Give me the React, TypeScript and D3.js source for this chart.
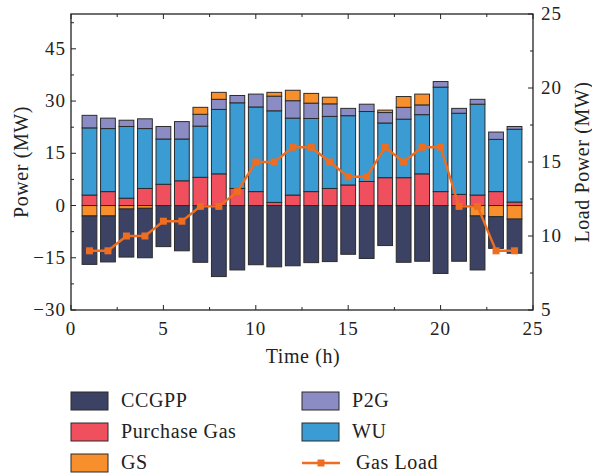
import React from "react";
import * as d3 from "d3";

const hours = [1,2,3,4,5,6,7,8,9,10,11,12,13,14,15,16,17,18,19,20,21,22,23,24];
const ccgpp = [-13.9,-13.2,-13.8,-14.2,-11.8,-13.0,-16.3,-20.4,-18.5,-17.0,-17.6,-17.3,-16.4,-16.1,-14.0,-15.2,-11.5,-16.3,-16.0,-19.5,-16.0,-15.5,-9.1,-9.8];
const purchaseGas = [3.0,4.0,2.1,4.9,6.1,7.1,8.1,9.1,4.9,4.0,0.9,3.0,4.0,4.9,5.9,6.9,8.0,8.0,9.1,4.0,3.2,3.0,4.0,1.0];
const gs = [-3.0,-3.0,-1.0,-0.8,0,0,2.0,2.0,0,0,1.1,3.0,2.8,1.9,0,0,0.7,3.1,3.1,0,0,-3.0,-3.2,-3.9];
const p2g = [3.6,3.0,1.8,2.8,3.6,5.0,3.4,2.9,2.1,3.7,4.2,5.0,4.4,3.6,2.1,2.1,3.0,3.4,2.8,1.6,1.4,1.4,2.1,0.8];
const wu = [19.3,18.1,20.6,17.2,13.0,12.0,14.7,18.5,24.6,24.3,26.3,22.1,21.0,20.7,19.9,20.1,15.7,16.8,17.0,30.0,23.3,26.1,15.0,20.9];
const gasLoad = [9,9,10,10,11,11,12,12,13,15,15,16,16,15,14,14,16,15,16,16,12,12,9,9];

const xTicks = [0,5,10,15,20,25];
const yTicks = [-30,-15,0,15,30,45];
const y2Ticks = [5,10,15,20,25];

const COLORS: Record<string,string> = {
  ccgpp: "#3c4263",
  purchase: "#f04f5e",
  gs: "#f7902c",
  p2g: "#8c8cc5",
  wu: "#3b9bd3",
  line: "#ee6d20",
};

const FONT = "'Liberation Serif', 'Times New Roman', serif";

export default function App() {
  const W = 592, H = 475;
  const L = 71, R = 533, T = 14, B = 310;
  const x = d3.scaleLinear().domain([0, 25]).range([L, R]);
  const y = d3.scaleLinear().domain([-30, 55]).range([B, T]);
  const y2 = d3.scaleLinear().domain([5, 25]).range([B, T]);

  const rows = hours.map((h, i) => ({
    h,
    gsNeg: Math.min(gs[i], 0),
    ccgpp: ccgpp[i],
    purchase: purchaseGas[i],
    wu: wu[i],
    p2g: p2g[i],
    gsPos: Math.max(gs[i], 0),
  }));
  const keys = ["gsNeg", "ccgpp", "purchase", "wu", "p2g", "gsPos"];
  const colorFor: Record<string,string> = {
    gsNeg: COLORS.gs, ccgpp: COLORS.ccgpp, purchase: COLORS.purchase,
    wu: COLORS.wu, p2g: COLORS.p2g, gsPos: COLORS.gs,
  };
  const series = d3.stack<any>().keys(keys).offset(d3.stackOffsetDiverging)(rows);
  const bw = x(0.8) - x(0);

  const line = d3.line<number>().x((_, i) => x(hours[i])).y(d => y2(d));

  const xMinor = d3.range(0, 25.01, 2.5);
  const yMinor = d3.range(-30, 55, 7.5);
  const y2Minor = d3.range(5, 25.01, 2.5);

  const legend = [
    { label: "CCGPP", color: COLORS.ccgpp, col: 0, row: 0 },
    { label: "Purchase Gas", color: COLORS.purchase, col: 0, row: 1 },
    { label: "GS", color: COLORS.gs, col: 0, row: 2 },
    { label: "P2G", color: COLORS.p2g, col: 1, row: 0 },
    { label: "WU", color: COLORS.wu, col: 1, row: 1 },
  ];
  const rowY = [401, 432, 463];
  const colX = [71, 302];
  const ls = 0.6;

  return (
    <svg width={W} height={H} style={{ position: "absolute", left: 0, top: 0, background: "#fff" }} fontFamily={FONT}>
      {series.map(s => (
        <g key={s.key} fill={colorFor[s.key]}>
          {s.map((d, i) => {
            const top = Math.max(d[0], d[1]);
            const bot = Math.min(d[0], d[1]);
            if (top - bot < 1e-6) return null;
            return (
              <rect key={i} x={x(hours[i]) - bw / 2} y={y(top)} width={bw} height={y(bot) - y(top)}
                stroke="#2b2b2b" strokeWidth={1} />
            );
          })}
        </g>
      ))}
      <path d={line(gasLoad) || ""} fill="none" stroke={COLORS.line} strokeWidth={2.4} />
      {gasLoad.map((v, i) => (
        <rect key={i} x={x(hours[i]) - 3.5} y={y2(v) - 3.5} width={7} height={7} fill={COLORS.line} />
      ))}
      <rect x={L} y={T} width={R - L} height={B - T} fill="none" stroke="#222" strokeWidth={1.3} />
      {xMinor.map(t => {
        const major = Math.abs(t % 5) < 1e-6;
        const len = major ? 5 : 3;
        return (
          <g key={"x" + t} stroke="#222" strokeWidth={1}>
            <line x1={x(t)} x2={x(t)} y1={B} y2={B - len} />
            <line x1={x(t)} x2={x(t)} y1={T} y2={T + len} />
          </g>
        );
      })}
      {yMinor.map(t => {
        const major = Math.abs(t % 15) < 1e-6;
        const len = major ? 5 : 3;
        return <line key={"y" + t} x1={L} x2={L + len} y1={y(t)} y2={y(t)} stroke="#222" strokeWidth={1} />;
      })}
      {y2Minor.map(t => {
        const major = Math.abs(t % 5) < 1e-6;
        const len = major ? 5 : 3;
        return <line key={"y2" + t} x1={R} x2={R - len} y1={y2(t)} y2={y2(t)} stroke="#222" strokeWidth={1} />;
      })}
      {xTicks.map(t => (
        <text key={"xl" + t} x={x(t)} y={335} textAnchor="middle" fontSize={19} letterSpacing={1} fill="#222">{t}</text>
      ))}
      {yTicks.map(t => (
        <text key={"yl" + t} x={66} y={y(t) + 6} textAnchor="end" fontSize={19} letterSpacing={1} fill="#222">
          {t < 0 ? "\u2212" + Math.abs(t) : t}
        </text>
      ))}
      {y2Ticks.map(t => (
        <text key={"y2l" + t} x={541} y={y2(t) + 6} textAnchor="start" fontSize={19} letterSpacing={1} fill="#222">{t}</text>
      ))}
      <text x={(L + R) / 2 + 1} y={363} textAnchor="middle" fontSize={20} letterSpacing={ls} fill="#222">Time (h)</text>
      <text transform={`translate(28,${(T + B) / 2}) rotate(-90)`} textAnchor="middle" fontSize={20} letterSpacing={ls} fill="#222">Power (MW)</text>
      <text transform={`translate(589,${(T + B) / 2}) rotate(-90)`} textAnchor="middle" fontSize={20} letterSpacing={ls} fill="#222">Load Power (MW)</text>
      {legend.map(l => (
        <g key={l.label}>
          <rect x={colX[l.col]} y={rowY[l.row] - 9} width={37} height={18} fill={l.color} stroke="#2b2b2b" strokeWidth={1} />
          <text x={colX[l.col] + 50} y={rowY[l.row] + 6} fontSize={20} letterSpacing={ls} fill="#222">{l.label}</text>
        </g>
      ))}
      <line x1={colX[1]} x2={colX[1] + 38} y1={rowY[2]} y2={rowY[2]} stroke={COLORS.line} strokeWidth={2.4} />
      <rect x={colX[1] + 19 - 3.5} y={rowY[2] - 3.5} width={7} height={7} fill={COLORS.line} />
      <text x={colX[1] + 54} y={rowY[2] + 6} fontSize={20} letterSpacing={ls} fill="#222">Gas Load</text>
    </svg>
  );
}
